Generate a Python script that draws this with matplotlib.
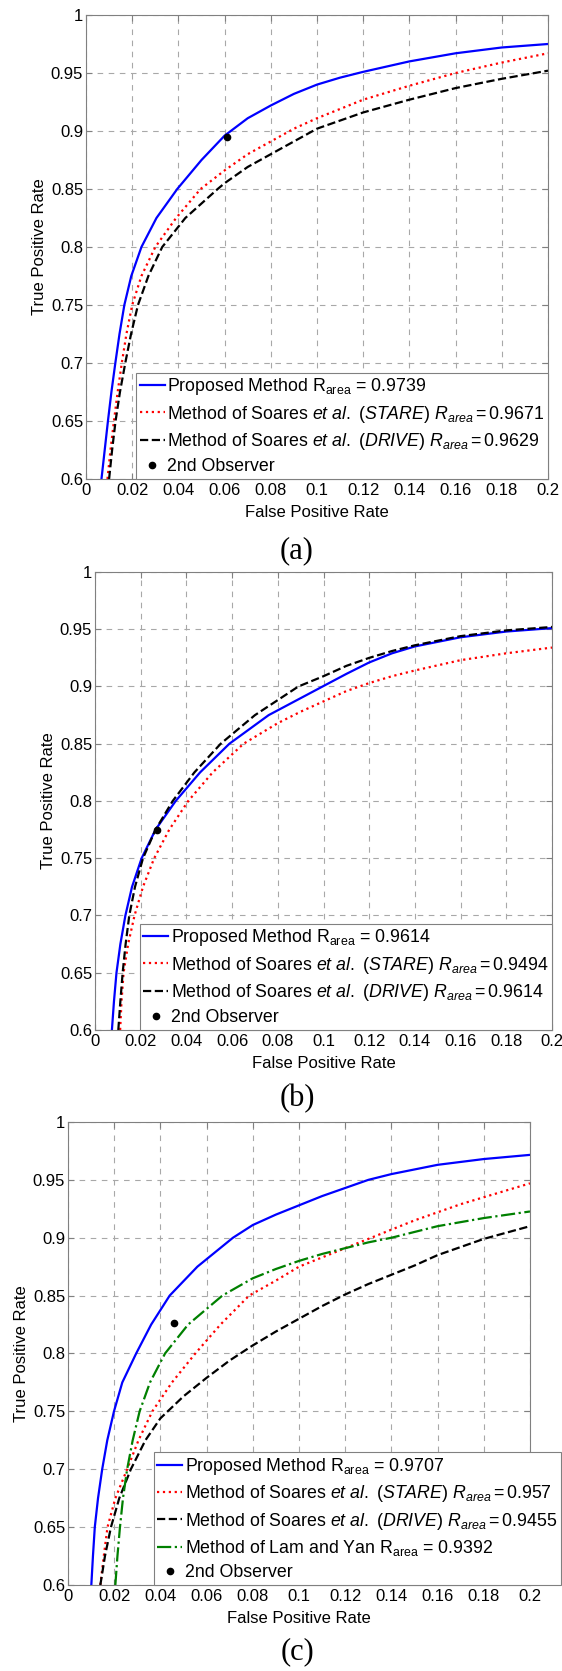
import matplotlib
matplotlib.use("Agg")
import matplotlib.pyplot as plt
from matplotlib.ticker import FuncFormatter

plt.rcParams["font.family"] = ["Liberation Sans", "DejaVu Sans"]
plt.rcParams["mathtext.fontset"] = "custom"
plt.rcParams["mathtext.rm"] = "Liberation Sans"
plt.rcParams["mathtext.it"] = "Liberation Sans:italic"
plt.rcParams["mathtext.bf"] = "Liberation Sans:bold"

W, H = 562, 1671

# ---- panel (a) ----
A_PROP_FPR = [0.0067, 0.0081, 0.0095, 0.0110, 0.0127, 0.0145, 0.0166, 0.0196, 0.0240, 0.0305, 0.0395,
              0.050, 0.060, 0.070, 0.080, 0.090, 0.100, 0.110, 0.120, 0.140, 0.160, 0.180, 0.200]
A_PROP_TPR = [0.600, 0.625, 0.650, 0.675, 0.700, 0.725, 0.750, 0.775, 0.800, 0.825, 0.850,
              0.875, 0.896, 0.911, 0.922, 0.932, 0.940, 0.946, 0.951, 0.960, 0.967, 0.972, 0.975]
A_STARE_FPR = [0.0093, 0.0106, 0.0121, 0.0137, 0.0155, 0.0175, 0.0200, 0.0240, 0.0300, 0.0390, 0.0496,
               0.060, 0.070, 0.080, 0.090, 0.100, 0.110, 0.120, 0.140, 0.160, 0.180, 0.200]
A_STARE_TPR = [0.600, 0.625, 0.650, 0.675, 0.700, 0.725, 0.750, 0.775, 0.800, 0.825, 0.850,
               0.866, 0.880, 0.891, 0.902, 0.911, 0.919, 0.927, 0.939, 0.950, 0.959, 0.967]
A_DRIVE_FPR = [0.0100, 0.0113, 0.0128, 0.0147, 0.0170, 0.0195, 0.0225, 0.0270, 0.0330, 0.0430, 0.0570,
               0.060, 0.070, 0.080, 0.090, 0.100, 0.110, 0.120, 0.140, 0.160, 0.180, 0.200]
A_DRIVE_TPR = [0.600, 0.625, 0.650, 0.675, 0.700, 0.725, 0.750, 0.775, 0.800, 0.825, 0.850,
               0.855, 0.869, 0.880, 0.891, 0.902, 0.909, 0.916, 0.927, 0.937, 0.945, 0.952]
A_OBS = (0.061, 0.895)
A_LABELS = [
    r"Proposed Method R$_{\mathrm{area}}$ = 0.9739",
    r"Method of Soares $\mathit{et\ al.\ (STARE)\ R_{area}=0.9671}$",
    r"Method of Soares $\mathit{et\ al.\ (DRIVE)\ R_{area}=0.9629}$",
]

# ---- panel (b) ----
B_PROP_FPR = [0.0074, 0.0083, 0.0094, 0.0111, 0.0133, 0.0162, 0.0204, 0.0265, 0.0353, 0.0460, 0.0588,
              0.0760, 0.0996, 0.110, 0.120, 0.130, 0.140, 0.160, 0.180, 0.200]
B_PROP_TPR = [0.600, 0.625, 0.650, 0.675, 0.700, 0.725, 0.750, 0.775, 0.800, 0.825, 0.850,
              0.875, 0.900, 0.911, 0.921, 0.929, 0.935, 0.943, 0.948, 0.951]
B_STARE_FPR = [0.0110, 0.0116, 0.0125, 0.0145, 0.0173, 0.0210, 0.0259, 0.0325, 0.0408, 0.0515, 0.0650,
               0.080, 0.090, 0.100, 0.110, 0.120, 0.130, 0.140, 0.160, 0.180, 0.200]
B_STARE_TPR = [0.600, 0.625, 0.650, 0.675, 0.700, 0.725, 0.750, 0.775, 0.800, 0.825, 0.850,
               0.868, 0.878, 0.887, 0.896, 0.903, 0.909, 0.914, 0.923, 0.929, 0.934]
B_DRIVE_FPR = [0.0102, 0.0111, 0.0121, 0.0134, 0.0150, 0.0175, 0.0210, 0.0265, 0.0340, 0.0435, 0.0550,
               0.0700, 0.0890, 0.100, 0.110, 0.120, 0.130, 0.140, 0.160, 0.180, 0.200]
B_DRIVE_TPR = [0.600, 0.625, 0.650, 0.675, 0.700, 0.725, 0.750, 0.775, 0.800, 0.825, 0.850,
               0.875, 0.900, 0.909, 0.918, 0.925, 0.931, 0.936, 0.944, 0.949, 0.952]
B_OBS = (0.027, 0.775)
B_LABELS = [
    r"Proposed Method R$_{\mathrm{area}}$ = 0.9614",
    r"Method of Soares $\mathit{et\ al.\ (STARE)\ R_{area}=0.9494}$",
    r"Method of Soares $\mathit{et\ al.\ (DRIVE)\ R_{area}=0.9614}$",
]

# ---- panel (c) ----
C_PROP_FPR = [0.0101, 0.0108, 0.0116, 0.0130, 0.0148, 0.0170, 0.0199, 0.0235, 0.0295, 0.0360, 0.0440,
              0.0560, 0.0714, 0.080, 0.090, 0.100, 0.110, 0.120, 0.130, 0.140, 0.150, 0.160, 0.180, 0.200]
C_PROP_TPR = [0.600, 0.625, 0.650, 0.675, 0.700, 0.725, 0.750, 0.775, 0.800, 0.825, 0.850,
              0.875, 0.900, 0.911, 0.920, 0.928, 0.936, 0.943, 0.950, 0.955, 0.959, 0.963, 0.968, 0.9716]
C_STARE_FPR = [0.0140, 0.0155, 0.0171, 0.0205, 0.0256, 0.0305, 0.0365, 0.0450, 0.0551, 0.0660, 0.0784,
               0.090, 0.100, 0.110, 0.120, 0.130, 0.140, 0.150, 0.160, 0.170, 0.180, 0.190, 0.200]
C_STARE_TPR = [0.600, 0.625, 0.650, 0.675, 0.700, 0.725, 0.750, 0.775, 0.800, 0.825, 0.850,
               0.863, 0.875, 0.883, 0.891, 0.899, 0.907, 0.915, 0.922, 0.929, 0.935, 0.941, 0.947]
C_DRIVE_FPR = [0.0140, 0.0160, 0.0186, 0.0222, 0.0272, 0.0335, 0.040, 0.050, 0.060, 0.070, 0.080,
               0.090, 0.100, 0.110, 0.120, 0.130, 0.140, 0.150, 0.160, 0.180, 0.200]
C_DRIVE_TPR = [0.600, 0.625, 0.650, 0.675, 0.700, 0.725, 0.744, 0.763, 0.779, 0.794, 0.807,
               0.819, 0.830, 0.841, 0.851, 0.860, 0.868, 0.876, 0.885, 0.899, 0.910]
C_LAM_FPR = [0.0205, 0.0214, 0.0225, 0.0238, 0.0256, 0.0280, 0.0310, 0.0355, 0.0420, 0.0520, 0.0668,
             0.080, 0.090, 0.100, 0.110, 0.120, 0.130, 0.140, 0.160, 0.180, 0.200]
C_LAM_TPR = [0.600, 0.625, 0.650, 0.675, 0.700, 0.725, 0.750, 0.775, 0.800, 0.825, 0.850,
             0.865, 0.873, 0.880, 0.886, 0.891, 0.896, 0.900, 0.910, 0.917, 0.9227]
C_OBS = (0.0458, 0.826)
C_LABELS = [
    r"Proposed Method R$_{\mathrm{area}}$ = 0.9707",
    r"Method of Soares $\mathit{et\ al.\ (STARE)\ R_{area}=0.957}$",
    r"Method of Soares $\mathit{et\ al.\ (DRIVE)\ R_{area}=0.9455}$",
    r"Method of Lam and Yan R$_{\mathrm{area}}$ = 0.9392",
]

X_TICKS = [0, 0.02, 0.04, 0.06, 0.08, 0.1, 0.12, 0.14, 0.16, 0.18, 0.2]
Y_TICKS = [0.6, 0.65, 0.7, 0.75, 0.8, 0.85, 0.9, 0.95, 1.0]

GRID_KW = dict(color="#a8a8a8", linestyle=(0, (5, 5)), linewidth=0.8)
SPINE_COLOR = "#808080"


def make_axes(fig, left, right, top, bottom):
    rect = [left / W, 1 - bottom / H, (right - left) / W, (bottom - top) / H]
    ax = fig.add_axes(rect)
    ax.set_xlim(0, 0.2)
    ax.set_ylim(0.6, 1.0)
    ax.set_xticks(X_TICKS)
    ax.set_yticks(Y_TICKS)
    fmt = FuncFormatter(lambda v, p: "%g" % round(v, 3))
    ax.xaxis.set_major_formatter(fmt)
    ax.yaxis.set_major_formatter(fmt)
    ax.grid(True, **GRID_KW)
    ax.set_axisbelow(True)
    ax.tick_params(direction="in", length=4, width=0.8, color=SPINE_COLOR,
                   top=True, right=True, labelsize=12, pad=2)
    ax.tick_params(axis="x", pad=3)
    for s in ax.spines.values():
        s.set_color(SPINE_COLOR)
        s.set_linewidth(0.8)
    ax.set_xlabel("False Positive Rate", fontsize=12, labelpad=5)
    ax.set_ylabel("True Positive Rate", fontsize=12, labelpad=3)
    return ax


def draw_panel(ax, curves, obs, anchor, loc):
    handles = []
    for fpr, tpr, color, ls, label in curves:
        h, = ax.plot(fpr, tpr, color=color, linestyle=ls, linewidth=1.6, label=label)
        handles.append(h)
    h, = ax.plot([obs[0]], [obs[1]], "o", color="black", markersize=4.5,
                 linestyle="none", label="2nd Observer")
    handles.append(h)
    leg = ax.legend(handles=handles, loc=loc, bbox_to_anchor=anchor,
                    fontsize=12.8, frameon=True, fancybox=False, framealpha=1,
                    edgecolor=SPINE_COLOR, borderaxespad=0, handlelength=1.4,
                    handletextpad=0.15, labelspacing=0.36, borderpad=0.2)
    leg.get_frame().set_linewidth(0.8)
    return leg


fig = plt.figure(figsize=(W / 100, H / 100), dpi=100)

ax_a = make_axes(fig, 86, 548, 15, 479)
draw_panel(ax_a, [
    (A_PROP_FPR, A_PROP_TPR, "#0000ff", "-", A_LABELS[0]),
    (A_STARE_FPR, A_STARE_TPR, "#ff0000", ":", A_LABELS[1]),
    (A_DRIVE_FPR, A_DRIVE_TPR, "black", "--", A_LABELS[2]),
], A_OBS, (1.0, 0.0), "lower right")

ax_b = make_axes(fig, 95, 552, 572, 1030)
draw_panel(ax_b, [
    (B_PROP_FPR, B_PROP_TPR, "#0000ff", "-", B_LABELS[0]),
    (B_STARE_FPR, B_STARE_TPR, "#ff0000", ":", B_LABELS[1]),
    (B_DRIVE_FPR, B_DRIVE_TPR, "black", "--", B_LABELS[2]),
], B_OBS, (1.0, 0.0), "lower right")

# panel (c): legend runs past the axes, right up to the figure edge
C_LEFT, C_RIGHT = 68, 530
ax_c = make_axes(fig, C_LEFT, C_RIGHT, 1122, 1585)
draw_panel(ax_c, [
    (C_PROP_FPR, C_PROP_TPR, "#0000ff", "-", C_LABELS[0]),
    (C_STARE_FPR, C_STARE_TPR, "#ff0000", ":", C_LABELS[1]),
    (C_DRIVE_FPR, C_DRIVE_TPR, "black", "--", C_LABELS[2]),
    (C_LAM_FPR, C_LAM_TPR, "#008000", "-.", C_LABELS[3]),
], C_OBS, ((W - 1 - C_LEFT) / (C_RIGHT - C_LEFT), 0.0), "lower right")

for label, y in [("(a)", 551), ("(b)", 1099), ("(c)", 1652)]:
    fig.text(297 / W, 1 - y / H, label, ha="center", va="center",
             fontsize=22, family=["Liberation Serif", "DejaVu Serif"])

fig.savefig("out.png", dpi=100)
